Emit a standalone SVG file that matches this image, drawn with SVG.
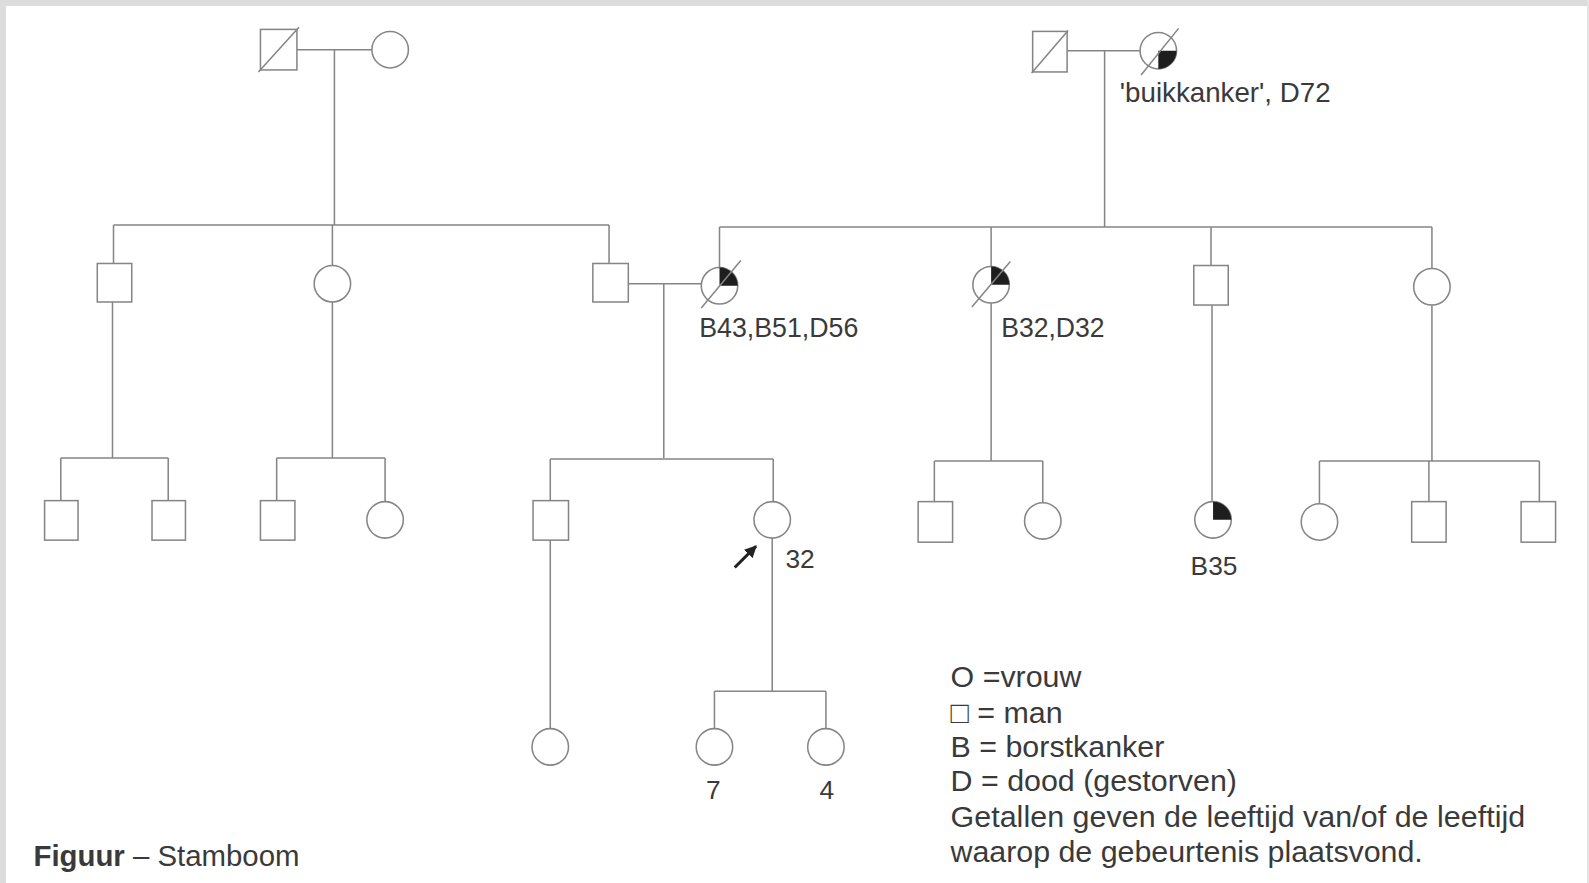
<svg xmlns="http://www.w3.org/2000/svg" width="1589" height="883" viewBox="0 0 1589 883">
<style>
.ln{stroke:#858585;stroke-width:1.5;fill:none}
.sh{stroke:#858585;stroke-width:1.5;fill:#fff}
.fill{fill:#1e1e1e;stroke:none}
.t{font-family:"Liberation Sans",Arial,sans-serif;fill:#3a3a3a}
</style>
<defs>
<marker id="ah" viewBox="0 0 10 10" refX="9" refY="5" markerWidth="4" markerHeight="4" orient="auto">
<path d="M0,0 L10,5 L0,10 Z" fill="#222"/>
</marker>
</defs>
<rect x="0" y="0" width="1589" height="883" fill="#fff"/>
<rect x="0" y="0" width="1589" height="6" fill="#dcdcdc"/>
<rect x="0" y="0" width="6" height="883" fill="#dcdcdc"/>
<rect x="1587" y="0" width="2" height="883" fill="#e4e4e4"/>

<g transform="scale(1.0134)">
<g id="connectors">
<path class="ln" d="M293,49 H367 M330,49 V222 M112,222 H601 M112,222 V260 M328,222 V262 M601,222 V260"/>
<path class="ln" d="M1053,50 H1125 M1090,50 V224 M710,224 H1413 M710,224 V264 M978,224 V263 M1195,224 V262 M1413,224 V265"/>
<path class="ln" d="M620,280 H692 M655,280 V452"/>
<path class="ln" d="M111,298 V452 M60,452 H166 M60,452 V494 M166,452 V494"/>
<path class="ln" d="M328,298 V452 M273,452 H380 M273,452 V494 M380,452 V495"/>
<path class="ln" d="M543,453 H763 M543,453 V494 M763,453 V495"/>
<path class="ln" d="M978,299 V455 M922,455 H1029 M922,455 V495 M1029,455 V496"/>
<path class="ln" d="M1196,301 V495"/>
<path class="ln" d="M1413,301 V455 M1302,455 H1519 M1302,455 V497 M1410,455 V495 M1519,455 V495"/>
<path class="ln" d="M543,533 V719"/>
<path class="ln" d="M762,531 V682 M705,682 H815 M705,682 V719 M815,682 V719"/>
<line x1="725" y1="560" x2="746" y2="539" stroke="#222" stroke-width="3" marker-end="url(#ah)"/>
</g>

<g id="gen1-father-left">
<rect class="sh" x="257" y="29" width="36" height="40"/>
<line class="ln" x1="255" y1="71" x2="295" y2="27"/>
</g>
<g id="gen1-mother-left"><circle class="sh" cx="385" cy="49" r="18"/></g>

<g id="gen1-father-right">
<rect class="sh" x="1019" y="31" width="34" height="40"/>
<line class="ln" x1="1018" y1="72" x2="1054" y2="30"/>
</g>
<g id="gen1-mother-right">
<circle class="sh" cx="1143" cy="50" r="18"/>
<path class="fill" d="M1143,50 L1161,50 A18,18 0 0 1 1143,68 Z"/>
<line class="ln" x1="1126" y1="74" x2="1163" y2="28"/>
<text class="t" x="1105" y="101" font-size="27" textLength="208" lengthAdjust="spacingAndGlyphs">'buikkanker', D72</text>
</g>

<g id="g2-son1"><rect class="sh" x="96" y="260" width="34" height="38"/></g>
<g id="g2-dau1"><circle class="sh" cx="328" cy="280" r="18"/></g>
<g id="g2-son2"><rect class="sh" x="585" y="260" width="35" height="38"/></g>
<g id="g2-dau-b43">
<circle class="sh" cx="710" cy="282" r="18"/>
<path class="fill" d="M710,282 L710,264 A18,18 0 0 1 728,282 Z"/>
<line class="ln" x1="692" y1="304" x2="731" y2="257"/>
<text class="t" x="690" y="333" font-size="27" textLength="157" lengthAdjust="spacingAndGlyphs">B43,B51,D56</text>
</g>
<g id="g2-dau-b32">
<circle class="sh" cx="978" cy="281" r="18"/>
<path class="fill" d="M978,281 L978,263 A18,18 0 0 1 996,281 Z"/>
<line class="ln" x1="959" y1="303" x2="997" y2="258"/>
<text class="t" x="988" y="333" font-size="27" textLength="102" lengthAdjust="spacingAndGlyphs">B32,D32</text>
</g>
<g id="g2-son3"><rect class="sh" x="1178" y="262" width="34" height="39"/></g>
<g id="g2-dau4"><circle class="sh" cx="1413" cy="283" r="18"/></g>

<g id="g3-a1"><rect class="sh" x="44" y="494" width="33" height="39"/></g>
<g id="g3-a2"><rect class="sh" x="150" y="494" width="33" height="39"/></g>
<g id="g3-b1"><rect class="sh" x="257" y="494" width="34" height="39"/></g>
<g id="g3-b2"><circle class="sh" cx="380" cy="513" r="18"/></g>
<g id="g3-c1"><rect class="sh" x="526" y="494" width="35" height="39"/></g>
<g id="g3-proband">
<circle class="sh" cx="762" cy="513" r="18"/>
<text class="t" x="775" y="560" font-size="26">32</text>
</g>
<g id="g3-d1"><rect class="sh" x="906" y="495" width="34" height="40"/></g>
<g id="g3-d2"><circle class="sh" cx="1029" cy="514" r="18"/></g>
<g id="g3-e1">
<circle class="sh" cx="1197" cy="513" r="18"/>
<path class="fill" d="M1197,513 L1197,495 A18,18 0 0 1 1215,513 Z"/>
<text class="t" x="1198" y="567" font-size="26" text-anchor="middle">B35</text>
</g>
<g id="g3-f1"><circle class="sh" cx="1302" cy="515" r="18"/></g>
<g id="g3-f2"><rect class="sh" x="1393" y="495" width="34" height="40"/></g>
<g id="g3-f3"><rect class="sh" x="1501" y="495" width="34" height="40"/></g>

<g id="g4-c1"><circle class="sh" cx="543" cy="737" r="18"/></g>
<g id="g4-p1">
<circle class="sh" cx="705" cy="737" r="18"/>
<text class="t" x="704" y="788" font-size="26" text-anchor="middle">7</text>
</g>
<g id="g4-p2">
<circle class="sh" cx="815" cy="737" r="18"/>
<text class="t" x="816" y="788" font-size="26" text-anchor="middle">4</text>
</g>

<g id="legend" class="t" font-size="30">
<text x="938" y="678">O =vrouw</text>
<text x="938" y="713">□ = man</text>
<text x="938" y="747">B = borstkanker</text>
<text x="938" y="781">D = dood (gestorven)</text>
<text x="938" y="816" textLength="567" lengthAdjust="spacing">Getallen geven de leeftijd van/of de leeftijd</text>
<text x="938" y="851" textLength="466" lengthAdjust="spacing">waarop de gebeurtenis plaatsvond.</text>
</g>

<g id="caption">
<text class="t" x="33" y="855" font-size="29"><tspan font-weight="bold">Figuur</tspan> – Stamboom</text>
</g>
</g>
</svg>
